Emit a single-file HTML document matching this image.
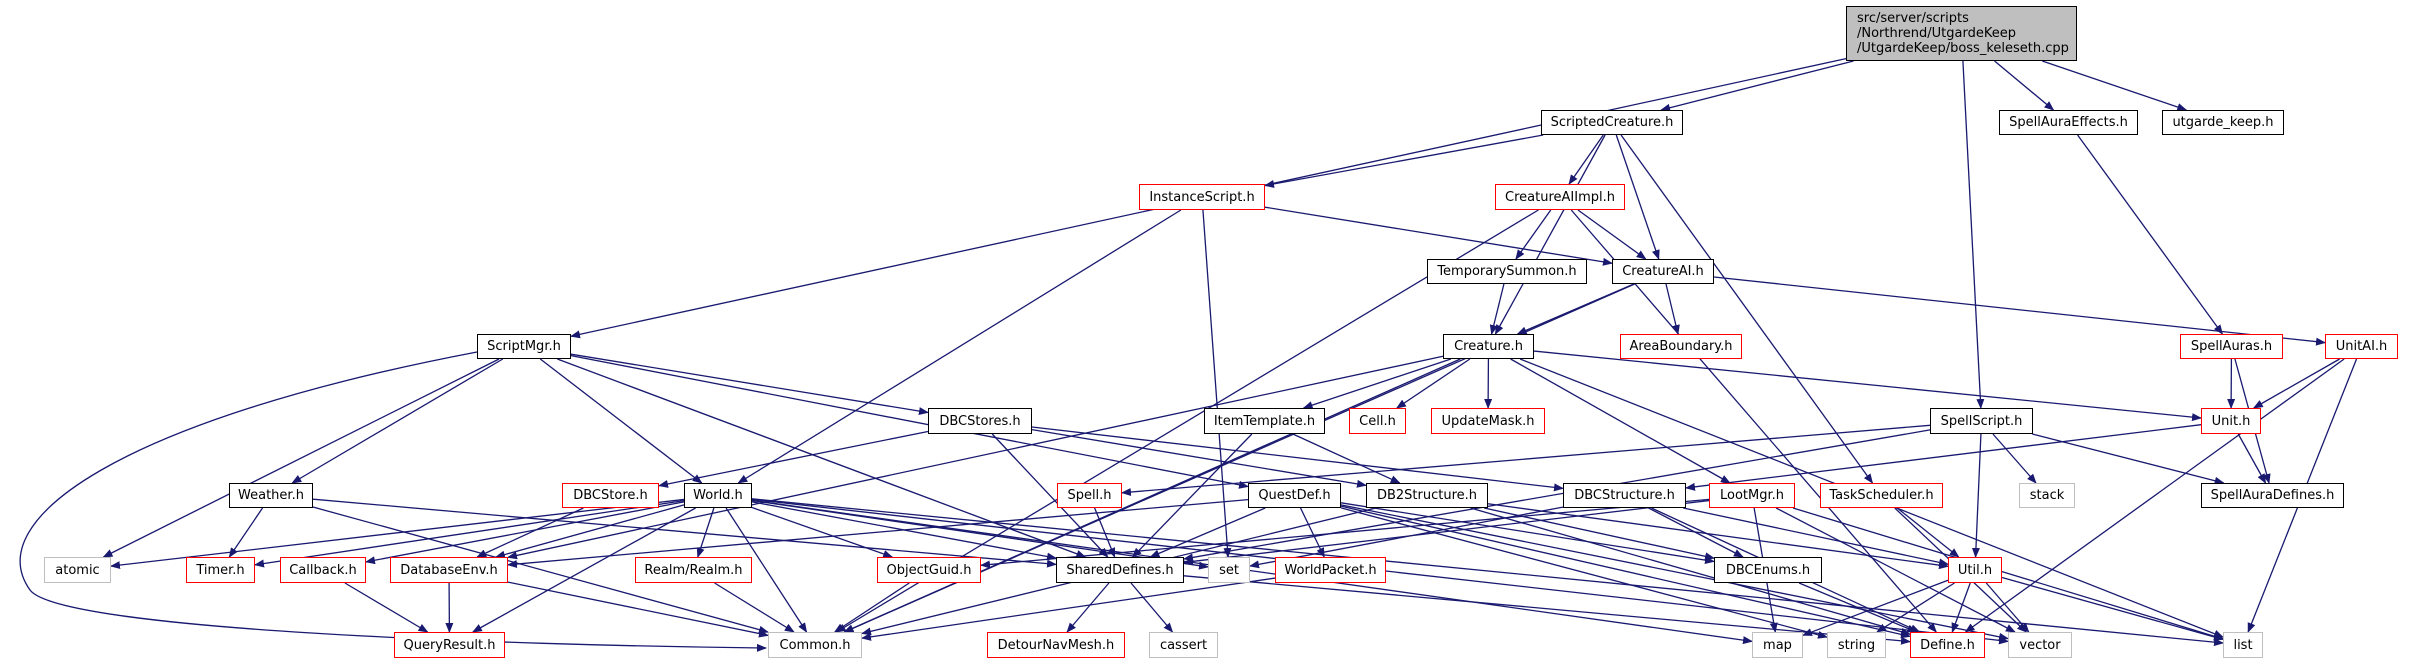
<!DOCTYPE html>
<html><head><meta charset="utf-8"><style>
html,body{margin:0;padding:0;background:#fff;}
#c{position:relative;width:2418px;height:664px;overflow:hidden;}
.n{position:absolute;box-sizing:border-box;border:1.5px solid #000;background:#fff;font-family:"DejaVu Sans","Liberation Sans",sans-serif;font-size:13px;color:#000;display:flex;align-items:center;justify-content:center;white-space:nowrap;z-index:2;}
.r{border-color:#ff0000;}
.g{border-color:#bfbfbf;}
svg{position:absolute;left:0;top:0;z-index:1;}
</style></head><body><div id="c">
<svg id="s" width="2418" height="664"><defs><marker id="a" markerWidth="10" markerHeight="8" refX="9" refY="4" orient="auto" markerUnits="userSpaceOnUse"><path d="M0,0 L10,4 L0,8 z" fill="#191970"/></marker></defs>
<path d="M477,352 C120,420 -20,520 30,590 C60,630 500,645 766,648" fill="none" stroke="#191970" stroke-width="1.3" marker-end="url(#a)"/>
</svg>
<div class="n" id="top" style="left:1846px;top:6px;width:231px;height:55px;background:#bfbfbf;justify-content:flex-start;padding-left:10px;line-height:15px;white-space:normal;">src/server/scripts<br>/Northrend/UtgardeKeep<br>/UtgardeKeep/boss_keleseth.cpp</div>
</div>
<script>
var N={
ScriptedCreature:[1541,110,1683,135,''],SpellAuraEffects:[1999,110,2138,135,''],utgarde_keep:[2162,110,2284,135,'','utgarde_keep.h'],
InstanceScript:[1139,184,1265,210,'r'],CreatureAIImpl:[1495,184,1625,210,'r'],
TemporarySummon:[1427,259,1587,284,''],CreatureAI:[1612,259,1714,284,''],
ScriptMgr:[477,334,571,359,''],Creature:[1443,334,1534,359,''],AreaBoundary:[1620,334,1742,359,'r'],SpellAuras:[2180,334,2283,359,'r'],UnitAI:[2325,334,2398,359,'r'],
DBCStores:[928,408,1032,434,''],ItemTemplate:[1204,408,1325,434,''],Cell:[1349,408,1406,434,'r'],UpdateMask:[1431,408,1545,434,'r'],SpellScript:[1930,408,2033,434,''],Unit:[2201,408,2261,434,'r'],
Weather:[229,483,313,508,''],DBCStore:[562,483,659,508,'r'],World:[684,483,752,508,''],Spell:[1057,483,1122,508,'r'],QuestDef:[1248,483,1341,508,''],DB2Structure:[1366,483,1488,508,''],DBCStructure:[1563,483,1686,508,''],LootMgr:[1709,483,1795,508,'r'],TaskScheduler:[1820,483,1943,508,'r'],stack:[2019,483,2075,508,'g','stack'],SpellAuraDefines:[2201,483,2344,508,''],
atomic:[44,557,111,583,'g','atomic'],Timer:[186,557,255,583,'r'],Callback:[280,557,366,583,'r'],DatabaseEnv:[390,557,508,583,'r'],Realm:[635,557,752,583,'r','Realm/Realm.h'],ObjectGuid:[877,557,981,583,'r'],SharedDefines:[1056,557,1184,583,''],set:[1208,557,1250,583,'g','set'],WorldPacket:[1275,557,1386,583,'r'],DBCEnums:[1714,557,1822,583,''],Util:[1948,557,2002,583,'r'],
QueryResult:[394,632,505,658,'r'],Common:[768,632,862,658,'g'],DetourNavMesh:[987,632,1125,658,'r'],cassert:[1149,632,1218,658,'g','cassert'],map:[1752,632,1803,658,'g','map'],string:[1827,632,1886,658,'g','string'],Define:[1910,632,1985,658,'r'],vector:[2008,632,2072,658,'g','vector'],list:[2223,632,2263,658,'g','list']
};
N.top=[1846,6,2077,61];
var c=document.getElementById('c');
for(var k in N){if(k=='top')continue;var v=N[k];var d=document.createElement('div');d.className='n '+v[4];d.style.left=v[0]+'px';d.style.top=v[1]+'px';d.style.width=(v[2]-v[0])+'px';d.style.height=(v[3]-v[1])+'px';d.textContent=v[5]||(k+'.h');c.appendChild(d);}
var E={
top:['ScriptMgr','ScriptedCreature','SpellScript','SpellAuraEffects','utgarde_keep'],
ScriptedCreature:['InstanceScript','CreatureAIImpl','CreatureAI','Creature','TaskScheduler'],
InstanceScript:['World','set','CreatureAI'],
CreatureAIImpl:['TemporarySummon','CreatureAI','Common','Define'],
TemporarySummon:['Creature'],
CreatureAI:['Creature','AreaBoundary','UnitAI','Common'],
SpellAuraEffects:['SpellAuras'],SpellAuras:['Unit','SpellAuraDefines'],UnitAI:['Unit','list','Define'],
ScriptMgr:['atomic','Weather','World','DBCStores','QuestDef','SharedDefines'],
Creature:['ItemTemplate','Cell','UpdateMask','LootMgr','Unit','list','Common','DatabaseEnv'],
Unit:['SpellAuraDefines','DBCStructure'],
SpellScript:['Spell','SharedDefines','stack','Util','SpellAuraDefines'],
DBCStores:['DBCStore','SharedDefines','DB2Structure','DBCStructure'],
ItemTemplate:['SharedDefines','DB2Structure'],
Weather:['Timer','SharedDefines','Common'],DBCStore:['DatabaseEnv'],
World:['atomic','Timer','Callback','DatabaseEnv','Realm','ObjectGuid','SharedDefines','set','QueryResult','Common','map','list','vector'],
Spell:['SharedDefines'],
QuestDef:['DatabaseEnv','SharedDefines','WorldPacket','DBCEnums','Define','string','vector'],
DB2Structure:['Common','DBCEnums','Define','Util'],
DBCStructure:['DBCEnums','Define','set','Util'],
LootMgr:['ObjectGuid','SharedDefines','map','list','vector'],
TaskScheduler:['Util','vector'],
Callback:['QueryResult'],DatabaseEnv:['QueryResult','Common'],Realm:['Common'],ObjectGuid:['Common'],
SharedDefines:['DetourNavMesh','cassert','Define'],WorldPacket:['Common'],DBCEnums:['Define'],
Util:['map','string','Define','vector','list']
};
function clip(b,px,py,qx,qy){var cx=(b[0]+b[2])/2,cy=(b[1]+b[3])/2,hw=(b[2]-b[0])/2,hh=(b[3]-b[1])/2;var dx=qx-cx,dy=qy-cy;var t=Math.min(dx?hw/Math.abs(dx):1e9,dy?hh/Math.abs(dy):1e9);return [cx+dx*t,cy+dy*t];}
var s=document.getElementById('s'),h='';
for(var a in E){var A=N[a];E[a].forEach(function(b){var B=N[b];var ac=[(A[0]+A[2])/2,(A[1]+A[3])/2],bc=[(B[0]+B[2])/2,(B[1]+B[3])/2];var p=clip(A,0,0,bc[0],bc[1]),q=clip(B,0,0,ac[0],ac[1]);h+='<line x1="'+p[0]+'" y1="'+p[1]+'" x2="'+q[0]+'" y2="'+q[1]+'" stroke="#191970" stroke-width="1.3" marker-end="url(#a)"/>';});}
s.insertAdjacentHTML('beforeend',h);
</script>
</body></html>
